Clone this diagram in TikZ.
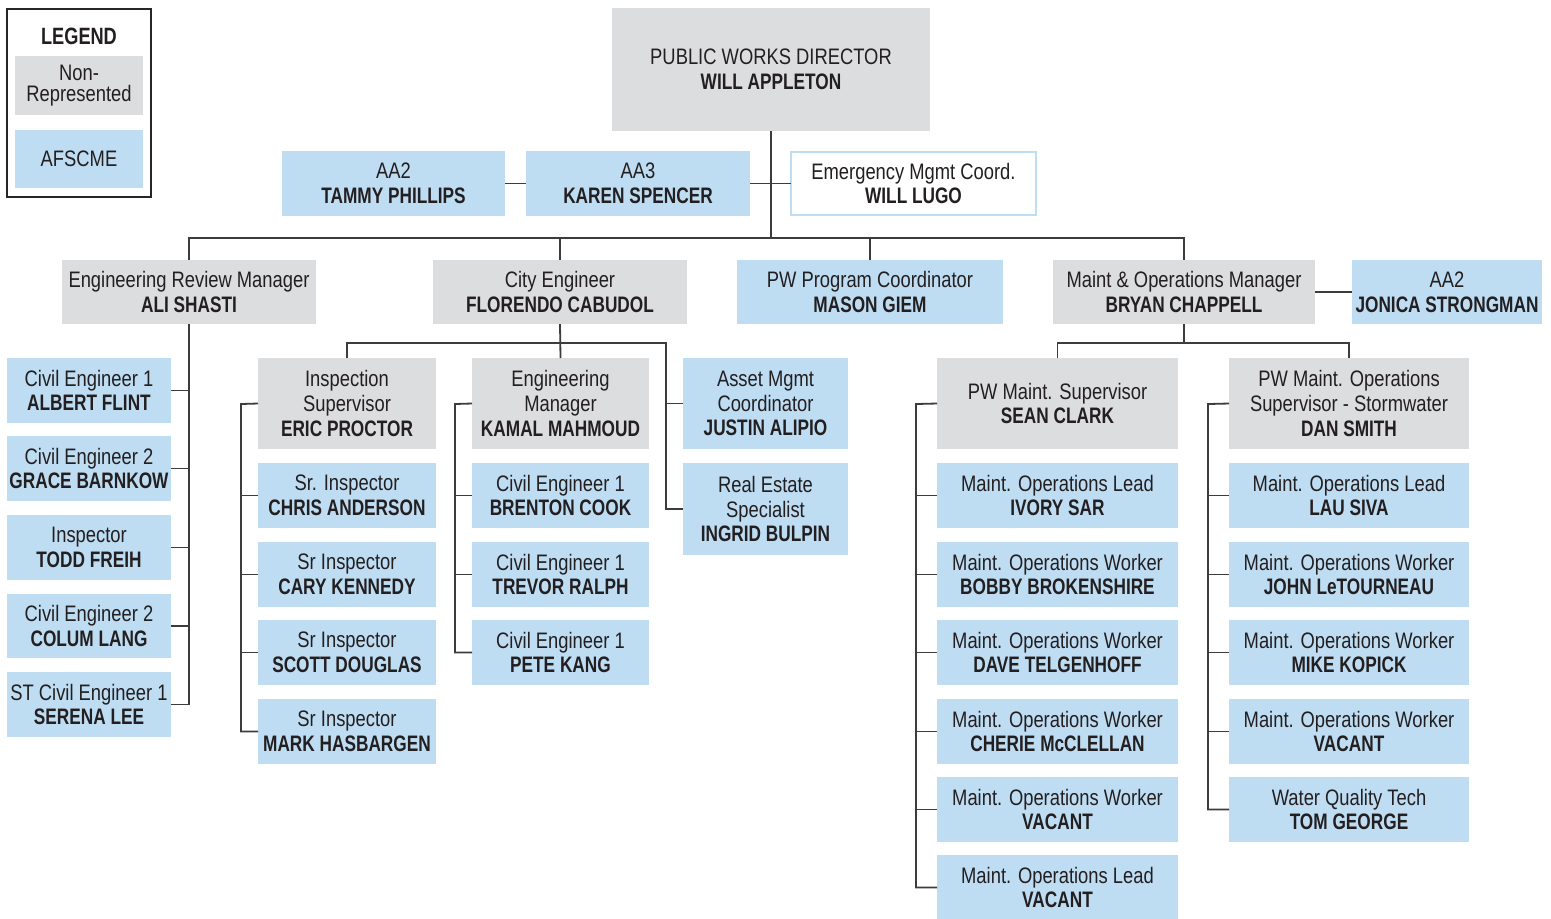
\documentclass[tikz,border=0pt]{standalone}
\usepackage{fontspec}
\setmainfont{Liberation Sans}[UprightFeatures={FakeStretch=0.82},
  BoldFeatures={FakeStretch=0.77}]
\definecolor{npgray}{HTML}{DCDDDE}
\definecolor{afblue}{HTML}{BEDDF3}
\definecolor{ink}{HTML}{231F20}
\definecolor{wirecol}{HTML}{3C3C3C}

\tikzset{
  boxbase/.style={inner sep=0pt, outer sep=0pt, align=center, text=ink,
    font=\fontsize{11.2}{12.3}\selectfont},
  grayrole/.style={boxbase, fill=npgray},
  bluerole/.style={boxbase, fill=afblue},
  openrole/.style={boxbase, fill=white, draw=afblue, line width=1pt},
  legendframe/.style={boxbase, draw=black!85, line width=1.1pt},
  wire/.style={draw=wirecol, line width=0.9pt},
}
% \role{name}{style}{x1}{y1}{x2}{y2}{text}: a box given by its corners
\newcommand\role[7]{\node[#2, minimum width={(#5-#3)*0.5pt},
  minimum height={(#6-#4)*0.5pt}] (#1) at ({(#3+#5)/2},{(#4+#6)/2}) {#7};}

\begin{document}
\begin{tikzpicture}[x=0.5pt, y=-0.5pt]
\clip (0,0) rectangle (1551,918);
\fill[white] (0,0) rectangle (1551,918);

% legend
\role{legend}{legendframe}{7}{9}{151}{197}{}
\node[boxbase, font=\fontsize{11.8}{12.3}\selectfont] (legtitle) at (79,36) {\textbf{LEGEND}};
\role{legnr}{grayrole, font=\fontsize{11.2}{10.6}\selectfont}{15}{56}{143}{115}{Non-\\Represented}
\role{legaf}{bluerole}{15}{130}{143}{188}{AFSCME}

% director and staff
\role{dir}{grayrole}{612}{8}{930}{131}{PUBLIC WORKS DIRECTOR\\\textbf{WILL APPLETON}}
\role{aatp}{bluerole}{282}{151}{505}{216}{AA2\\\textbf{TAMMY PHILLIPS}}
\role{aaks}{bluerole}{526}{151}{750}{216}{AA3\\\textbf{KAREN SPENCER}}
\role{emc}{openrole}{791}{152}{1036}{215}{Emergency Mgmt Coord.\\\textbf{WILL LUGO}}

% division heads
\role{ali}{grayrole}{62}{260}{316}{324}{Engineering Review Manager\\\textbf{ALI SHASTI}}
\role{city}{grayrole}{433}{260}{687}{324}{City Engineer\\\textbf{FLORENDO CABUDOL}}
\role{pwpc}{bluerole}{737}{260}{1003}{324}{PW Program Coordinator\\\textbf{MASON GIEM}}
\role{moc}{grayrole}{1053}{260}{1315}{324}{Maint \& Operations Manager\\\textbf{BRYAN CHAPPELL}}
\role{jon}{bluerole}{1352}{260}{1542}{324}{AA2\\\textbf{JONICA STRONGMAN}}

% engineering review
\role{abf}{bluerole}{7}{358}{171}{423}{Civil Engineer 1\\\textbf{ALBERT FLINT}}
\role{gbk}{bluerole}{7}{436}{171}{501}{Civil Engineer 2\\\textbf{GRACE BARNKOW}}
\role{tfr}{bluerole}{7}{515}{171}{580}{Inspector\\\textbf{TODD FREIH}}
\role{clg}{bluerole}{7}{594}{171}{658}{Civil Engineer 2\\\textbf{COLUM LANG}}
\role{slee}{bluerole}{7}{672}{171}{737}{ST Civil Engineer 1\\\textbf{SERENA LEE}}

% inspection
\role{ins}{grayrole}{258}{358}{436}{449}{Inspection\\Supervisor\\\textbf{ERIC PROCTOR}}
\role{chr}{bluerole}{258}{463}{436}{528}{Sr. Inspector\\\textbf{CHRIS ANDERSON}}
\role{cky}{bluerole}{258}{542}{436}{607}{Sr Inspector\\\textbf{CARY KENNEDY}}
\role{sdg}{bluerole}{258}{620}{436}{685}{Sr Inspector\\\textbf{SCOTT DOUGLAS}}
\role{mhs}{bluerole}{258}{699}{436}{764}{Sr Inspector\\\textbf{MARK HASBARGEN}}

% engineering
\role{emg}{grayrole}{472}{358}{649}{449}{Engineering\\Manager\\\textbf{KAMAL MAHMOUD}}
\role{bck}{bluerole}{472}{463}{649}{528}{Civil Engineer 1\\\textbf{BRENTON COOK}}
\role{trl}{bluerole}{472}{542}{649}{607}{Civil Engineer 1\\\textbf{TREVOR RALPH}}
\role{pkg}{bluerole}{472}{620}{649}{685}{Civil Engineer 1\\\textbf{PETE KANG}}

% asset management
\role{asm}{bluerole}{683}{358}{848}{449}{Asset Mgmt\\Coordinator\\\textbf{JUSTIN ALIPIO}}
\role{res}{bluerole}{683}{463}{848}{555}{Real Estate\\Specialist\\\textbf{INGRID BULPIN}}

% maintenance
\role{pws}{grayrole}{937}{358}{1178}{449}{PW Maint. Supervisor\\\textbf{SEAN CLARK}}
\role{isar}{bluerole}{937}{463}{1178}{528}{Maint. Operations Lead\\\textbf{IVORY SAR}}
\role{bbk}{bluerole}{937}{542}{1178}{607}{Maint. Operations Worker\\\textbf{BOBBY BROKENSHIRE}}
\role{dtg}{bluerole}{937}{620}{1178}{685}{Maint. Operations Worker\\\textbf{DAVE TELGENHOFF}}
\role{cmc}{bluerole}{937}{699}{1178}{764}{Maint. Operations Worker\\\textbf{CHERIE McCLELLAN}}
\role{vwa}{bluerole}{937}{777}{1178}{842}{Maint. Operations Worker\\\textbf{VACANT}}
\role{vla}{bluerole}{937}{855}{1178}{920}{Maint. Operations Lead\\\textbf{VACANT}}

% stormwater
\role{sws}{grayrole}{1229}{358}{1469}{449}{PW Maint. Operations\\Supervisor - Stormwater\\\textbf{DAN SMITH}}
\role{lsv}{bluerole}{1229}{463}{1469}{528}{Maint. Operations Lead\\\textbf{LAU SIVA}}
\role{jlt}{bluerole}{1229}{542}{1469}{607}{Maint. Operations Worker\\\textbf{JOHN LeTOURNEAU}}
\role{mkp}{bluerole}{1229}{620}{1469}{685}{Maint. Operations Worker\\\textbf{MIKE KOPICK}}
\role{vwb}{bluerole}{1229}{699}{1469}{764}{Maint. Operations Worker\\\textbf{VACANT}}
\role{tgg}{bluerole}{1229}{777}{1469}{842}{Water Quality Tech\\\textbf{TOM GEORGE}}

% bus points
\coordinate (topbus) at (771,238);
\coordinate (citybus) at (560,343);
\coordinate (cityright) at (666,343);
\coordinate (mocbus) at (1184,343);
\coordinate (insbar) at (241,404);
\coordinate (emgbar) at (455,404);
\coordinate (pwsbar) at (916,404);
\coordinate (swsbar) at (1208,404);

% connectors
\begin{scope}[wire]
  \draw (dir.south) -- (topbus);
  \draw (aatp.east) -- (aaks.west);
  \draw (aaks.east) -- (emc.west);
  \draw (ali.north) |- (topbus) -| (moc.north);
  \draw (city.north) -- (city.north |- topbus);
  \draw (pwpc.north) -- (pwpc.north |- topbus);
  \draw (moc.east) -- (jon.west);

  \draw (ali.south) |- (slee.east);
  \foreach \n in {abf,gbk,tfr,clg} \draw (\n.east) -- (\n.east -| ali.south);

  \draw (city.south) -- (emg.north);
  \draw (ins.north) |- (citybus) -| (cityright) |- (res.west);
  \draw (asm.west) -- (asm.west -| cityright);

  \draw (ins.west) -- (insbar) |- (mhs.west);
  \foreach \n in {chr,cky,sdg} \draw (\n.west) -- (\n.west -| insbar);
  \draw (emg.west) -- (emgbar) |- (pkg.west);
  \foreach \n in {bck,trl} \draw (\n.west) -- (\n.west -| emgbar);

  \draw (moc.south) -- (mocbus);
  \draw (pws.north) |- (mocbus) -| (sws.north);
  \draw (pws.west) -- (pwsbar) |- (vla.west);
  \foreach \n in {isar,bbk,dtg,cmc,vwa} \draw (\n.west) -- (\n.west -| pwsbar);
  \draw (sws.west) -- (swsbar) |- (tgg.west);
  \foreach \n in {lsv,jlt,mkp,vwb} \draw (\n.west) -- (\n.west -| swsbar);
\end{scope}
\end{tikzpicture}
\end{document}
